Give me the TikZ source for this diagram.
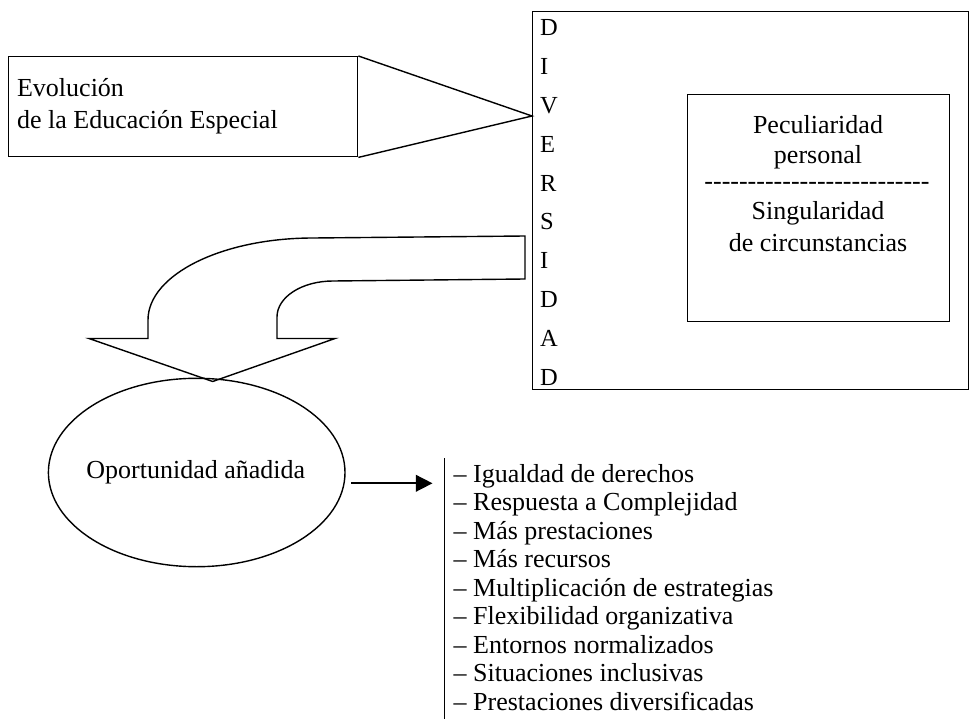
\documentclass[tikz,border=0pt]{standalone}
\usepackage{fontspec}
\setmainfont{Liberation Serif}
\usetikzlibrary{shapes.geometric,arrows.meta,calc}
\def\hh{-\kern0pt}
\begin{document}
\begin{tikzpicture}[x=1pt,y=-1pt, line width=1.4pt,
  box/.style={draw, rectangle, inner sep=0pt, anchor=north west},
  txt/.style={font=\fontsize{26}{28}\selectfont, inner sep=0pt, anchor=base west},
  ctxt/.style={font=\fontsize{26}{28}\selectfont, inner sep=0pt, anchor=base},
  letter/.style={font=\fontsize{24.5}{28}\selectfont, inner sep=0pt, anchor=base west}]
\useasboundingbox (0,0) rectangle (971,719);
\fill[white] (0,0) rectangle (971,719);

% Evolucion box and wedge
\node[box, minimum width=349pt, minimum height=100pt] (evol) at (8,56) {};
\node[txt] (evolA) at (16.4,97) {Evolución};
\node[txt] (evolB) at (16.4,129) {de la Educación Especial};

% DIVERSIDAD box
\node[box, minimum width=436pt, minimum height=378pt] (div) at (532,11) {};
\coordinate (apex) at (532,116);
\draw[line join=miter] (evol.north east) -- (apex) -- (evol.south east);
\foreach \l [count=\i from 0] in {D,I,V,E,R,S,I,D,A,D}
  \node[letter] (L\i) at (539.5,{36+38.78*\i}) {\l};

% inner box
\node[box, minimum width=262pt, minimum height=227pt] (inner) at (687,94) {};
\node[ctxt] (pec) at (818,133.3) {Peculiaridad};
\node[ctxt] (pers) at (818,164) {personal};
\node[ctxt] (hy) at (817,189.5) {\hh\hh\hh\hh\hh\hh\hh\hh\hh\hh\hh\hh\hh\hh\hh\hh\hh\hh\hh\hh\hh\hh\hh\hh\hh\hh};
\node[ctxt] (sing) at (818,220) {Singularidad};
\node[ctxt] (circ) at (818,251.7) {de circunstancias};

% curved block arrow
\draw[line join=miter] (525,236) -- (313,238)
  .. controls (222,238) and (148,274.7) .. (148,320)
  -- (148,338.5) -- (89,338.5) -- (212.7,381.5) -- (335,338.5) -- (277,338.5) -- (277,317)
  .. controls (277,297) and (302,281) .. (333,281)
  -- (525,279) -- cycle;

% ellipse
\node[draw, ellipse, minimum width=296.6pt, minimum height=188.4pt, inner sep=0pt] (opp) at (196.7,472.5) {};
\node[ctxt] (opptxt) at (195.8,478.6) {Oportunidad añadida};

% list bar and arrow
\coordinate (bartop) at (444.3,458.3);
\coordinate (barbot) at (444.3,722);
\draw (bartop) -- (barbot);
\coordinate (arrS) at ($(opp.east)+(5.7,10.8)$);
\coordinate (arrE) at ($(arrS -| bartop)+(-11.8,0)$);
\draw[line width=1.7pt,-{Triangle[length=16.7pt,width=16.7pt]}] (arrS) -- (arrE);

\foreach \t [count=\i from 0] in {Igualdad de derechos, Respuesta a Complejidad, Más prestaciones, Más recursos, Multiplicación de estrategias, Flexibilidad organizativa, Entornos normalizados, Situaciones inclusivas, Prestaciones diversificadas}
  \node[txt] (item\i) at (453,{482+28.5*\i}) {– \t};
\end{tikzpicture}
\end{document}
